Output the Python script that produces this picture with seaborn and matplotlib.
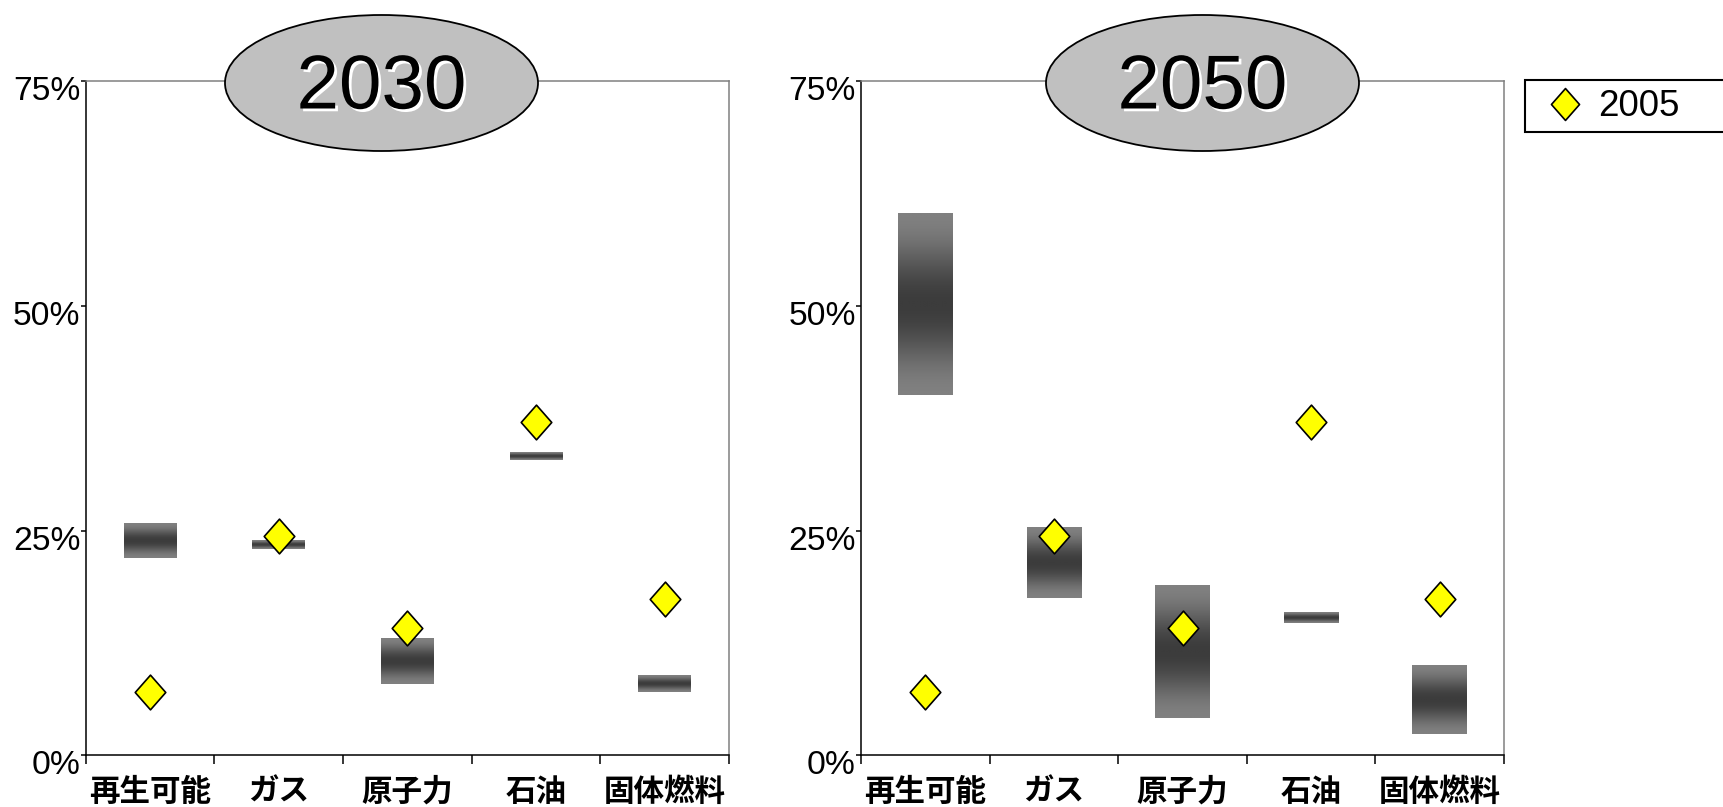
import numpy as np
import matplotlib
matplotlib.use("Agg")
import matplotlib.pyplot as plt
import matplotlib.patheffects as pe
from matplotlib.patches import Ellipse, Rectangle
from matplotlib.path import Path
from matplotlib.markers import MarkerStyle
from matplotlib.lines import Line2D
from matplotlib.colors import LinearSegmentedColormap
from matplotlib.transforms import ScaledTranslation
import seaborn as sns

# ---------------- data ----------------
categories = ['再生可能', 'ガス', '原子力', '石油', '固体燃料']
share_2005 = [7.0, 24.45, 14.2, 37.1, 17.45]
low_2030 = [22.0, 23.0, 7.9, 32.9, 7.0]
high_2030 = [25.85, 23.95, 12.95, 33.75, 8.8]
low_2050 = [40.1, 17.5, 4.2, 14.75, 2.4]
high_2050 = [60.35, 25.3, 18.95, 15.95, 10.05]
panel_titles = ['2030', '2050']
y_ticks = [0, 25, 50, 75]
y_tick_labels = ['0%', '25%', '50%', '75%']
legend_label = '2005'

# ---------------- style ----------------
sns.set_theme(style='white')
plt.rcParams['font.family'] = ['Liberation Sans', 'Noto Sans CJK JP', 'DejaVu Sans']
plt.rcParams['text.color'] = 'black'
plt.rcParams['xtick.color'] = 'black'
plt.rcParams['ytick.color'] = 'black'
plt.rcParams['axes.labelcolor'] = 'black'

W, H = 1724, 807
fig = plt.figure(figsize=(W / 100, H / 100), dpi=100)
fig.patch.set_facecolor('white')

ax_bottom = (H - 755.3) / H
ax_height = 673.9 / H
axes = [fig.add_axes([85.8 / W, ax_bottom, 643 / W, ax_height]),
        fig.add_axes([861 / W, ax_bottom, 643 / W, ax_height])]

grad_cmap = LinearSegmentedColormap.from_list('g', ['#3c3c3c', '#808080'])
t = np.linspace(-1, 1, 256)
profile = 1 - (1 + np.cos(np.pi * t)) / 2  # 0 at centre (dark), 1 at edges (light)
grad = profile[:, None]

diamond = MarkerStyle(Path([(0, 1), (0.88, 0), (0, -1), (-0.88, 0), (0, 1)],
                           [Path.MOVETO, Path.LINETO, Path.LINETO, Path.LINETO, Path.CLOSEPOLY]))

xpos = np.arange(len(categories))
bar_widths = [0.41, 0.425]
lows = [low_2030, low_2050]
highs = [high_2030, high_2050]

for i, ax in enumerate(axes):
    lo = np.array(lows[i])
    hi = np.array(highs[i])
    bars = ax.bar(xpos, hi - lo, bottom=lo, width=bar_widths[i],
                  color='#606060', edgecolor='none', zorder=2)
    for p in bars.patches:
        x0, y0 = p.get_x(), p.get_y()
        ax.imshow(grad, extent=[x0, x0 + p.get_width(), y0, y0 + p.get_height()],
                  origin='lower', cmap=grad_cmap, vmin=0, vmax=1,
                  aspect='auto', interpolation='bilinear', zorder=2.5)
    sns.scatterplot(x=xpos, y=share_2005, ax=ax, marker=diamond, s=25 ** 2,
                    color='#FFFF00', edgecolor='black', linewidth=1.2,
                    zorder=3, legend=False)

    ax.set_xlim(-0.5, len(categories) - 0.5)
    ax.set_ylim(0, 75)
    ax.set_xlabel('')
    ax.set_ylabel('')
    ax.set_facecolor('white')
    ax.grid(False)

    # boundary ticks (major) and category labels (minor)
    ax.set_xticks(np.arange(-0.5, len(categories), 1.0))
    ax.set_xticks(xpos, labels=categories, minor=True)
    ax.tick_params(axis='x', which='major', bottom=True, length=6.5, width=1.1,
                   direction='out', color='black', labelbottom=False)
    ax.tick_params(axis='x', which='minor', bottom=True, length=0, pad=14.8,
                   labelsize=22, labelcolor='black')
    for lbl in ax.get_xticklabels(minor=True):
        lbl.set_fontfamily(['Noto Sans CJK JP'])
        lbl.set_fontweight('bold')

    ax.set_yticks(y_ticks, labels=y_tick_labels)
    ax.tick_params(axis='y', which='major', left=True, length=3.3, width=1.1,
                   direction='out', color='black', pad=0.5, labelsize=24.2,
                   labelcolor='black')
    offset = ScaledTranslation(0, -0.07, fig.dpi_scale_trans)
    for lbl in ax.get_yticklabels():
        lbl.set_transform(lbl.get_transform() + offset)

    for side in ['left', 'bottom']:
        ax.spines[side].set_color('black')
        ax.spines[side].set_linewidth(1.1)
        ax.spines[side].set_visible(True)
    for side in ['top', 'right']:
        ax.spines[side].set_color('#808080')
        ax.spines[side].set_linewidth(1.1)
        ax.spines[side].set_visible(True)

# ---------------- titles in ellipses ----------------
title_centers = [381.5, 1202.5]
for cx, title in zip(title_centers, panel_titles):
    ell = Ellipse((cx / W, 1 - 83 / H), 313 / W, 136 / H, transform=fig.transFigure,
                  facecolor='#C0C0C0', edgecolor='black', linewidth=1.3, zorder=3)
    fig.add_artist(ell)
    fig.text(cx / W, 1 - 108.5 / H, title, ha='center', va='baseline',
             fontsize=55, color='black', family='Liberation Sans', zorder=4,
             path_effects=[pe.withSimplePatchShadow(offset=(2, -2), shadow_rgbFace='white',
                                                    alpha=1.0)])

# ---------------- legend ----------------
frame = Rectangle((1525 / W, 1 - 132 / H), 210 / W, 52 / H, transform=fig.transFigure,
                  facecolor='white', edgecolor='black', linewidth=1.5, zorder=3)
fig.add_artist(frame)
handle = Line2D([], [], marker=diamond, markersize=23, linestyle='none',
                markerfacecolor='#FFFF00', markeredgecolor='black', markeredgewidth=1.2,
                label=legend_label)
leg = fig.legend(handles=[handle], loc='center left',
                 bbox_to_anchor=(1546.6 / W, 1 - 107 / H),
                 frameon=False, borderpad=0, borderaxespad=0,
                 handlelength=1.0, handletextpad=0.4, fontsize=26.5)
leg.set_zorder(5)

fig.savefig('out.png', dpi=100, facecolor='white')
